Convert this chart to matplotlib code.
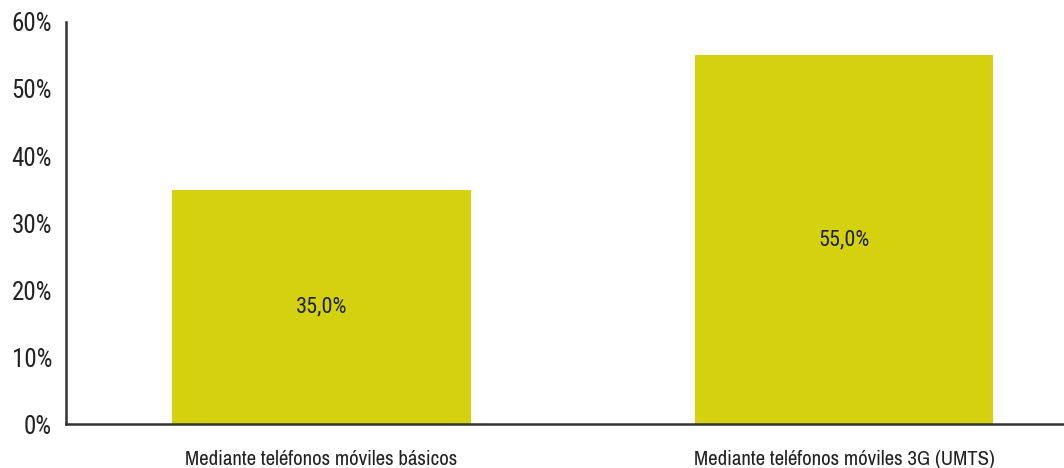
#!/usr/bin/env python

from matplotlib import pyplot as plt
from matplotlib.ticker import FuncFormatter

categories = ["Mediante teléfonos móviles básicos", "Mediante teléfonos móviles 3G (UMTS)"]
values = [35.0, 55.0]
value_labels = ["35,0%", "55,0%"]
yticks = [0, 10, 20, 30, 40, 50, 60]


def main():
    plt.rcParams["font.family"] = ["Roboto Condensed", "Archivo Narrow", "DejaVu Sans"]
    fig = plt.figure(figsize=(10.64, 4.68), dpi=100)
    ax = fig.add_axes([0.062, 0.094, 0.938, 0.859])

    x = list(range(len(categories)))
    bars = ax.bar(x, values, width=0.572, color="#d4d10f", zorder=2)
    for bar, lab in zip(bars, value_labels):
        ax.text(bar.get_x() + bar.get_width() / 2, bar.get_height() / 2, lab,
                ha="center", va="center", fontsize=16, color="#222222")

    ax.set_xlim(-0.489, 1.421)
    ax.set_ylim(0, 60)
    ax.set_yticks(yticks)
    ax.yaxis.set_major_formatter(FuncFormatter(lambda v, p: f"{v:.0f}%"))
    ax.set_xticks(x)
    ax.set_xticklabels(categories, family=["Archivo Narrow", "Roboto Condensed", "DejaVu Sans"])
    ax.tick_params(axis="y", length=0, pad=10, labelsize=18, labelcolor="#222222")
    ax.tick_params(axis="x", length=0, pad=18.5, labelsize=15, labelcolor="#222222")

    for side in ["top", "right"]:
        ax.spines[side].set_visible(False)
    for side in ["left", "bottom"]:
        ax.spines[side].set_color("#333333")
        ax.spines[side].set_linewidth(1.8)

    fig.savefig("out.png", dpi=100)


if __name__ == "__main__":
    main()
